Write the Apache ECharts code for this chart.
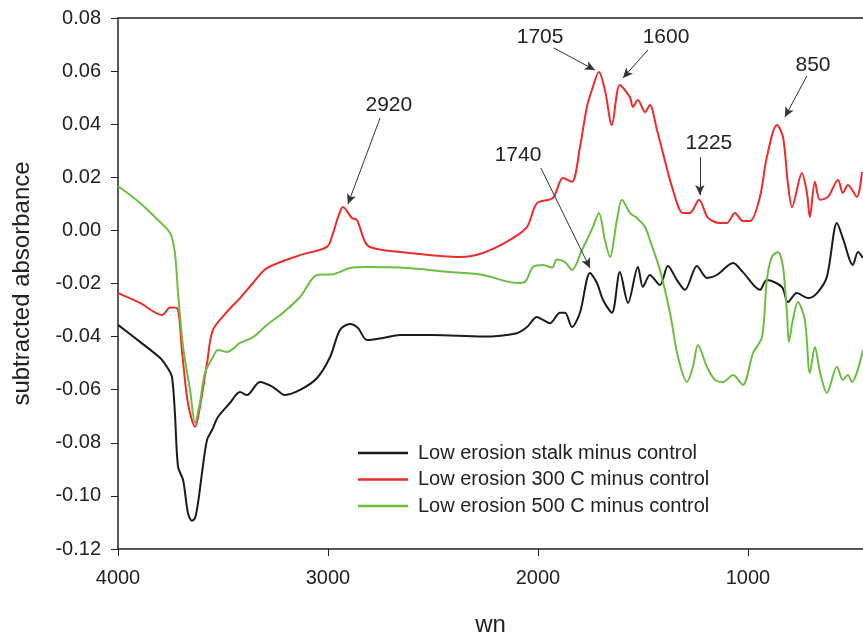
<!DOCTYPE html>
<html>
<head>
<meta charset="utf-8">
<script src="https://cdn.jsdelivr.net/npm/echarts@6.0.0/dist/echarts.min.js"></script>
<style>
  html, body { margin: 0; padding: 0; background: #fff; }
  #chart { width: 863px; height: 636px; }
</style>
</head>
<body>
<div id="chart"></div>
<script>
// wavenumber / absorbance, one pair of arrays per curve
var stalkWn = [4000, 3895, 3800, 3762, 3743, 3729, 3714, 3690, 3667, 3648, 3633, 3619, 3600, 3576, 3552, 3524, 3467, 3419, 3386, 3324, 3262, 3205, 3133, 3052, 2990, 2943, 2895, 2857, 2814, 2738, 2657, 2500, 2262, 2100, 2052, 2005, 1976, 1943, 1895, 1871, 1838, 1800, 1752, 1719, 1690, 1648, 1610, 1571, 1524, 1500, 1467, 1419, 1381, 1338, 1300, 1243, 1195, 1148, 1071, 1024, 943, 910, 838, 810, 767, 714, 671, 624, 576, 548, 500, 476, 452];
var stalkAbs = [-0.0356, -0.042, -0.048, -0.052, -0.0552, -0.0688, -0.0891, -0.094, -0.1064, -0.1094, -0.1083, -0.1027, -0.0914, -0.0789, -0.0752, -0.0703, -0.065, -0.0609, -0.062, -0.0571, -0.059, -0.062, -0.0601, -0.0556, -0.0477, -0.0375, -0.0353, -0.0368, -0.0413, -0.0405, -0.0394, -0.0394, -0.040, -0.0387, -0.0364, -0.0326, -0.0337, -0.035, -0.031, -0.031, -0.0364, -0.031, -0.016, -0.0198, -0.0262, -0.031, -0.0157, -0.0273, -0.0138, -0.0213, -0.0168, -0.0206, -0.0134, -0.0187, -0.0224, -0.0134, -0.0179, -0.0168, -0.0123, -0.0157, -0.0224, -0.0187, -0.0213, -0.027, -0.0236, -0.0255, -0.0236, -0.0175, 0.0028, -0.0029, -0.013, -0.0081, -0.0104];

var c300Wn = [4000, 3895, 3790, 3752, 3719, 3695, 3667, 3633, 3610, 3576, 3548, 3481, 3419, 3357, 3291, 3133, 3005, 2976, 2952, 2929, 2886, 2862, 2814, 2738, 2657, 2371, 2262, 2133, 2052, 2005, 1929, 1881, 1838, 1800, 1767, 1743, 1710, 1681, 1648, 1610, 1562, 1548, 1524, 1490, 1467, 1433, 1405, 1357, 1310, 1276, 1233, 1190, 1133, 1100, 1062, 1024, 990, 943, 910, 862, 833, 810, 790, 743, 719, 705, 681, 657, 619, 571, 548, 524, 481, 457];
var c300Abs = [-0.0236, -0.0273, -0.0319, -0.029, -0.0292, -0.0458, -0.065, -0.074, -0.0665, -0.050, -0.0375, -0.0307, -0.0255, -0.0198, -0.0142, -0.0093, -0.0062, -0.001, 0.005, 0.0088, 0.0047, 0.0039, -0.0055, -0.0074, -0.0081, -0.010, -0.0085, -0.0036, 0.0013, 0.0103, 0.0122, 0.0197, 0.0183, 0.0314, 0.0465, 0.0529, 0.0597, 0.0529, 0.0397, 0.0548, 0.0502, 0.0465, 0.0491, 0.0446, 0.0472, 0.0378, 0.0292, 0.0152, 0.0066, 0.0066, 0.0115, 0.0047, 0.0028, 0.0028, 0.0066, 0.0035, 0.0035, 0.0126, 0.0276, 0.0397, 0.0352, 0.0179, 0.0088, 0.0216, 0.0141, 0.005, 0.0183, 0.0115, 0.0126, 0.019, 0.0141, 0.0171, 0.0126, 0.022];

var c500Wn = [4000, 3895, 3810, 3752, 3729, 3714, 3690, 3657, 3633, 3610, 3586, 3548, 3524, 3481, 3419, 3357, 3291, 3214, 3133, 3052, 2976, 2895, 2814, 2657, 2419, 2262, 2100, 2062, 2024, 1976, 1933, 1910, 1871, 1838, 1790, 1738, 1710, 1681, 1657, 1624, 1600, 1562, 1529, 1490, 1467, 1419, 1371, 1333, 1290, 1262, 1238, 1195, 1157, 1119, 1071, 1024, 976, 933, 910, 886, 857, 833, 814, 805, 786, 762, 729, 705, 681, 657, 624, 576, 548, 524, 505, 452];
var c500Abs = [0.0167, 0.0103, 0.0039, -0.001, -0.0085, -0.0236, -0.0439, -0.060, -0.0725, -0.065, -0.0537, -0.0477, -0.045, -0.0458, -0.0424, -0.0402, -0.0356, -0.031, -0.0251, -0.0168, -0.0165, -0.0142, -0.0138, -0.014, -0.0157, -0.0168, -0.0198, -0.0194, -0.0138, -0.013, -0.014, -0.011, -0.012, -0.0149, -0.0074, 0.0013, 0.0066, -0.0036, -0.010, 0.0039, 0.0115, 0.0066, 0.0047, 0.0013, -0.0036, -0.0149, -0.0311, -0.0477, -0.0571, -0.0514, -0.0432, -0.0514, -0.0563, -0.0571, -0.0545, -0.0582, -0.0462, -0.0402, -0.0187, -0.010, -0.0081, -0.0138, -0.0311, -0.042, -0.0337, -0.027, -0.0337, -0.0537, -0.0439, -0.0533, -0.0612, -0.0514, -0.0563, -0.0545, -0.0571, -0.045];

var seriesNames = ['Low erosion stalk minus control', 'Low erosion 300 C minus control', 'Low erosion 500 C minus control'];
var xTicks = [1000, 2000, 3000, 4000];

// peak labels: text position, arrow start, arrow tip (wn, absorbance)
var peakText = ['2920', '1705', '1600', '1740', '1225', '850'];
var peakTextPos = [[2710, 0.0472], [1990, 0.0728], [1390, 0.0728], [2095, 0.0284], [1186, 0.0329], [690, 0.0623]];
var arrowFrom = [[2752, 0.0423], [1924, 0.0687], [1476, 0.068], [1986, 0.0235], [1229, 0.0276], [719, 0.0582]];
var arrowTo = [[2905, 0.0099], [1729, 0.0604], [1595, 0.0574], [1752, -0.0142], [1229, 0.0133], [824, 0.0427]];

function zip(a, b) {
    var out = [];
    for (var i = 0; i < a.length; i++) out.push([a[i], b[i]]);
    return out;
}

var fontName = 'Liberation Sans, Arial, sans-serif';
var textCol = '#222';

var arrows = [];
var labels = [];
for (var i = 0; i < peakText.length; i++) {
    arrows.push([{ coord: arrowFrom[i] }, { coord: arrowTo[i] }]);
    labels.push({ coord: peakTextPos[i], value: peakText[i] });
}

var chart = echarts.init(document.getElementById('chart'));

var option = {
    animation: false,
    backgroundColor: '#fff',
    grid: { left: 118, top: 18, right: 0, bottom: 87, outerBoundsMode: 'none' },
    legend: {
        data: seriesNames,
        orient: 'vertical',
        left: 353,
        top: 438,
        icon: 'rect',
        itemWidth: 50,
        itemHeight: 2.5,
        itemGap: 6.5,
        textStyle: { fontFamily: fontName, fontSize: 20, color: textCol, padding: [0, 0, 0, 5] }
    },
    xAxis: [{
        type: 'value',
        inverse: true,
        min: 452,
        max: 4000,
        name: 'wn',
        nameLocation: 'middle',
        nameGap: 64,
        nameTextStyle: { fontFamily: fontName, fontSize: 24, color: textCol },
        axisLine: { show: true, onZero: false, lineStyle: { color: '#222', width: 1.5 } },
        axisTick: { show: true, length: 7, customValues: xTicks, lineStyle: { color: '#222' } },
        axisLabel: {
            customValues: xTicks,
            margin: 19,
            fontFamily: fontName,
            fontSize: 20,
            color: textCol,
            formatter: function (v) { return String(v); }
        },
        splitLine: { show: false }
    }, {
        type: 'value',
        position: 'top',
        inverse: true,
        min: 452,
        max: 4000,
        axisLine: { show: true, onZero: false, lineStyle: { color: '#222', width: 1.5 } },
        axisTick: { show: false },
        axisLabel: { show: false },
        splitLine: { show: false }
    }],
    yAxis: {
        type: 'value',
        min: -0.12,
        max: 0.08,
        interval: 0.02,
        name: 'subtracted absorbance',
        nameLocation: 'middle',
        nameRotate: 90,
        nameGap: 84,
        nameTextStyle: { fontFamily: fontName, fontSize: 24, color: textCol },
        axisLine: { show: true, lineStyle: { color: '#222', width: 1.5 } },
        axisTick: { show: true, length: 7, lineStyle: { color: '#222' } },
        axisLabel: {
            margin: 17,
            fontFamily: fontName,
            fontSize: 20,
            color: textCol,
            formatter: function (v) { return v.toFixed(2); }
        },
        splitLine: { show: false }
    },
    series: [
        {
            name: seriesNames[0],
            type: 'line',
            data: zip(stalkWn, stalkAbs),
            symbol: 'none',
            smooth: 0.3,
            lineStyle: { color: '#1b1b1b', width: 2 },
            itemStyle: { color: '#1b1b1b' }
        },
        {
            name: seriesNames[1],
            type: 'line',
            data: zip(c300Wn, c300Abs),
            symbol: 'none',
            smooth: 0.3,
            lineStyle: { color: '#ef2b2b', width: 2 },
            itemStyle: { color: '#ef2b2b' }
        },
        {
            name: seriesNames[2],
            type: 'line',
            data: zip(c500Wn, c500Abs),
            symbol: 'none',
            smooth: 0.3,
            lineStyle: { color: '#6cbd42', width: 2 },
            itemStyle: { color: '#6cbd42' }
        },
        {
            name: 'peaks',
            type: 'line',
            data: [],
            markLine: {
                silent: true,
                symbol: ['none', 'arrow'],
                symbolSize: [7, 10],
                label: { show: false },
                lineStyle: { color: '#333', width: 1, type: 'solid' },
                data: arrows
            },
            markPoint: {
                silent: true,
                symbol: 'rect',
                symbolSize: 1,
                itemStyle: { color: 'rgba(0,0,0,0)' },
                label: {
                    show: true,
                    position: 'inside',
                    formatter: '{c}',
                    fontFamily: fontName,
                    fontSize: 21,
                    color: textCol
                },
                data: labels
            }
        }
    ]
};

chart.setOption(option);
</script>
</body>
</html>
